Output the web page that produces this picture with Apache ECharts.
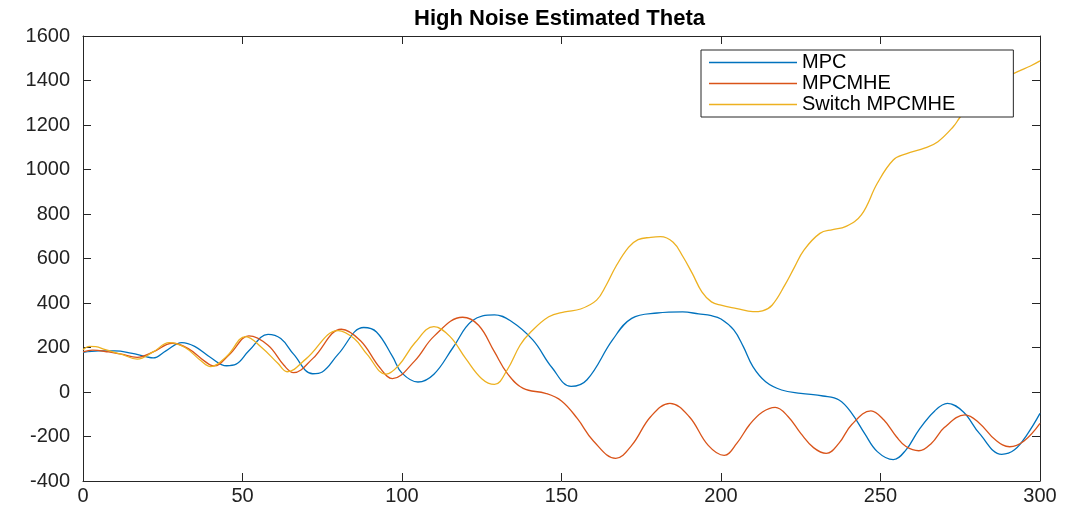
<!DOCTYPE html>
<html>
<head>
<meta charset="utf-8">
<script src="https://cdn.jsdelivr.net/npm/echarts@6/dist/echarts.min.js"></script>
<style>
html,body{margin:0;padding:0;background:#fff;}
#c{width:1072px;height:512px;}
</style>
</head>
<body>
<div id="c"></div>
<script>
// ---- data ----
const seriesNames = ['MPC', 'MPCMHE', 'Switch MPCMHE'];
const xTicks = [0, 50, 100, 150, 200, 250, 300];
const yTicks = [-400, -200, 0, 200, 400, 600, 800, 1000, 1200, 1400, 1600];

const mpcT = [0,5,10,15,20,22,26,31,35,40,45,48,52,58,62,66,72,75,80,88,92,97,100,105,110,116,122,129,134,141,147,153,158,166,172,180,188,193,197,200,204,207,210,214,219,225,232,237,241,245,249,254,258,262,267,271,276,281,288,292,296,300];
const mpcV = [178,185,185,175,158,153,185,222,205,155,118,125,185,259,240,170,82,90,170,290,270,160,85,45,80,200,320,347,320,234,110,25,55,234,331,355,360,351,343,328,279,204,114,46,9,-6,-18,-36,-96,-186,-268,-304,-260,-171,-85,-51,-90,-186,-280,-260,-190,-96];

const mhT = [0,3,8,12,17,22,28,33,38,41,46,52,58,63,66,72,81,87,93,97,104,110,119,124,129,133,138,145,150,155,160,167,172,178,184,190,196,201,205,209,213,217,221,225,229,233,237,241,247,251,255,258,262,266,270,276.5,281,286,290.5,295,300];
const mhV = [180,188,180,170,156,180,219,195,140,117,170,252,210,120,87,150,282,230,110,60,140,250,336,300,180,84,16,-6,-40,-120,-220,-298,-240,-110,-51,-110,-240,-285,-230,-146,-90,-69,-110,-186,-250,-276,-230,-146,-85,-125,-201,-245,-264,-230,-160,-103,-140,-215,-246,-220,-141];

const swT = [0,2,4,7,12,17,22,27,32,37,40,45,51,56,61,64,70,80,85,89,95,99,104,110,115,120,125,129,133,137,140,146,151,156,161,164,167,171,174,178,181,185,188,191,194,197,200,205,210,213,216,220,223,226,231,235,239,244,249,254,258,264,268,272.8,275,280,286,293,297,300];
const swV = [190,205,204,190,170,148,180,222,200,140,114,160,249,200,130,91,150,276,240,170,80,120,220,294,250,150,60,34,100,210,264,338,360,373,413,480,563,650,685,695,698,673,610,533,450,405,390,375,361,365,390,480,560,638,713,730,743,796,938,1043,1070,1097,1125,1192,1236,1320,1390,1440,1465,1488];

const colors = ['#0072BD', '#D95319', '#EDB120'];

function pairs(t, v) { return t.map((x, i) => [x, v[i]]); }

const chart = echarts.init(document.getElementById('c'), null, {renderer: 'canvas'});
const axisColor = '#262626';
const font = 'Liberation Sans, Arial, Helvetica, sans-serif';

const baseX = {
  type: 'value', min: xTicks[0], max: xTicks[xTicks.length - 1], interval: 50,
  axisLine: {show: true, onZero: false, lineStyle: {color: axisColor, width: 1}},
  axisTick: {show: true, inside: true, length: 8, lineStyle: {color: axisColor}},
  splitLine: {show: false}
};
const baseY = {
  type: 'value', min: yTicks[0], max: yTicks[yTicks.length - 1], interval: 200,
  axisLine: {show: true, onZero: false, lineStyle: {color: axisColor, width: 1}},
  axisTick: {show: true, inside: true, length: 8, lineStyle: {color: axisColor}},
  splitLine: {show: false}
};

const option = {
  animation: false,
  backgroundColor: '#ffffff',
  title: {
    text: 'High Noise Estimated Theta',
    left: 414, top: 8, padding: 0,
    textStyle: {fontFamily: font, fontSize: 22, fontWeight: 'bold', color: '#000'}
  },
  legend: {
    orient: 'vertical', left: 701, top: 50, z: 20,
    padding: [2, 58, 2, 8],
    icon: 'rect',
    itemWidth: 88, itemHeight: 1.4, itemGap: 0,
    backgroundColor: '#fff', borderColor: axisColor, borderWidth: 1,
    data: seriesNames,
    textStyle: {fontFamily: font, fontSize: 20, lineHeight: 21, color: '#000'}
  },
  grid: {left: 83, right: 32, top: 36, bottom: 31, containLabel: false},
  xAxis: [
    Object.assign({}, baseX, {position: 'bottom',
      axisLabel: {show: true, margin: 5, fontFamily: font, fontSize: 20, color: '#222'}}),
    Object.assign({}, baseX, {position: 'top', axisLabel: {show: false}})
  ],
  yAxis: [
    Object.assign({}, baseY, {position: 'left',
      axisLabel: {show: true, margin: 13, fontFamily: font, fontSize: 20, color: '#222',
        formatter: function (v) { return String(v); }}}),
    Object.assign({}, baseY, {position: 'right', axisLabel: {show: false}})
  ],
  series: [
    {name: seriesNames[0], type: 'line', data: pairs(mpcT, mpcV), smooth: 0.4, symbol: 'none',
     lineStyle: {color: colors[0], width: 1.3}, itemStyle: {color: colors[0]}},
    {name: seriesNames[1], type: 'line', data: pairs(mhT, mhV), smooth: 0.4, symbol: 'none',
     lineStyle: {color: colors[1], width: 1.3}, itemStyle: {color: colors[1]}},
    {name: seriesNames[2], type: 'line', data: pairs(swT, swV), smooth: 0.4, symbol: 'none',
     lineStyle: {color: colors[2], width: 1.3}, itemStyle: {color: colors[2]}}
  ]
};
chart.setOption(option);
</script>
</body>
</html>
